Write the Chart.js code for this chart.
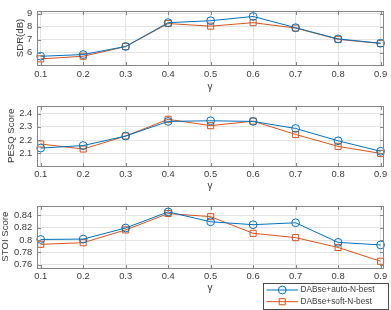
<!DOCTYPE html>
<html><head><meta charset="utf-8">
<script src="https://cdn.jsdelivr.net/npm/chart.js@4/dist/chart.umd.min.js"></script>
<style>
html,body{margin:0;padding:0;background:#fff;}
#wrap{position:relative;width:391px;height:310px;overflow:hidden;background:#fff;}
canvas{position:absolute;left:0;}
</style></head><body>
<div id="wrap">
<canvas id="c1" width="391" height="95" style="top:0px;width:391px;height:95px"></canvas>
<canvas id="c2" width="391" height="100" style="top:95px;width:391px;height:100px"></canvas>
<canvas id="c3" width="391" height="115" style="top:195px;width:391px;height:115px"></canvas>
</div>
<script>
// ---- data ----
const gammas = [0.1, 0.2, 0.3, 0.4, 0.5, 0.6, 0.7, 0.8, 0.9];
const xTickLabels = ['0.1', '0.2', '0.3', '0.4', '0.5', '0.6', '0.7', '0.8', '0.9'];
const seriesNames = ['DABse+auto-N-best', 'DABse+soft-N-best'];

const sdrAuto = [5.72, 5.85, 6.48, 8.32, 8.47, 8.80, 7.93, 7.06, 6.73];
const sdrSoft = [5.52, 5.72, 6.47, 8.25, 8.05, 8.32, 7.90, 7.03, 6.71];
const sdrTicks = [6, 7, 8, 9];
const sdrTickLabels = ['6', '7', '8', '9'];

const pesqAuto = [2.140, 2.159, 2.231, 2.341, 2.346, 2.341, 2.288, 2.195, 2.116];
const pesqSoft = [2.171, 2.133, 2.231, 2.357, 2.309, 2.343, 2.243, 2.153, 2.100];
const pesqTicks = [2.1, 2.2, 2.3, 2.4];
const pesqTickLabels = ['2.1', '2.2', '2.3', '2.4'];

const stoiAuto = [0.8010, 0.8016, 0.8195, 0.8454, 0.8295, 0.8248, 0.8279, 0.7963, 0.7922];
const stoiSoft = [0.7932, 0.7958, 0.8164, 0.8428, 0.8377, 0.8109, 0.8040, 0.7881, 0.7659];
const stoiTicks = [0.76, 0.78, 0.80, 0.82, 0.84];
const stoiTickLabels = ['0.76', '0.78', '0.8', '0.82', '0.84'];

// ---- style ----
const BLUE = '#0072BD', ORANGE = '#D95319';
const GRID = '#e4e4e4', BORDER = '#858585', TEXT = '#3a3a3a';
const FONT = "'Liberation Sans', Arial, Helvetica, sans-serif";

const boxPlugin = {
  id: 'matBox',
  afterDraw(chart) {
    const {ctx, chartArea: a, scales: {x, y}} = chart;
    ctx.save();
    ctx.strokeStyle = BORDER; ctx.lineWidth = 1;
    const l = Math.round(a.left) + 0.5, t = Math.round(a.top) + 0.5;
    const r = Math.round(a.right) + 0.5, b = Math.round(a.bottom) + 0.5;
    ctx.strokeRect(l, t, r - l, b - t);
    const L = 3.5;
    ctx.beginPath();
    x.ticks.forEach(tk => {
      const p = Math.round(x.getPixelForValue(tk.value)) + 0.5;
      ctx.moveTo(p, b); ctx.lineTo(p, b - L);
      ctx.moveTo(p, t); ctx.lineTo(p, t + L);
    });
    y.ticks.forEach(tk => {
      const p = Math.round(y.getPixelForValue(tk.value)) + 0.5;
      ctx.moveTo(l, p); ctx.lineTo(l + L, p);
      ctx.moveTo(r, p); ctx.lineTo(r - L, p);
    });
    ctx.stroke();
    ctx.restore();
  }
};

const legendPlugin = {
  id: 'matLegend',
  afterDraw(chart, args, opts) {
    if (!opts || !opts.show) return;
    const {ctx} = chart;
    const bx = opts.x, by = opts.y, bw = opts.w, bh = opts.h;
    ctx.save();
    ctx.fillStyle = '#fff';
    ctx.fillRect(bx, by, bw, bh);
    ctx.strokeStyle = '#4a4a4a'; ctx.lineWidth = 1;
    ctx.strokeRect(bx + 0.5, by + 0.5, bw - 1, bh - 1);
    ctx.font = '8.3px ' + FONT;
    ctx.textBaseline = 'middle';
    chart.data.datasets.forEach((ds, i) => {
      const cy = by + opts.row0 + i * opts.rowGap;
      ctx.strokeStyle = ds.borderColor; ctx.lineWidth = 1;
      ctx.beginPath();
      ctx.moveTo(opts.lineX0, cy); ctx.lineTo(opts.lineX1, cy);
      ctx.stroke();
      const mx = (opts.lineX0 + opts.lineX1) / 2;
      ctx.fillStyle = 'rgba(0,0,0,0)';
      Chart.helpers.drawPoint(ctx, {pointStyle: ds.pointStyle, radius: ds.pointRadius, borderWidth: 1, rotation: 0}, mx, cy);
      ctx.fillStyle = TEXT;
      ctx.fillText(ds.label, opts.textX, cy);
    });
    ctx.restore();
  }
};

function makeChart(id, cfg) {
  const ds = (label, data, color, style, radius) => ({
    label, data: gammas.map((g, i) => ({x: g, y: data[i]})),
    borderColor: color, backgroundColor: 'rgba(0,0,0,0)',
    pointBorderColor: color, pointBackgroundColor: 'rgba(0,0,0,0)',
    borderWidth: 1, pointBorderWidth: 1, pointStyle: style, pointRadius: radius,
    tension: 0, clip: false
  });
  return new Chart(document.getElementById(id), {
    type: 'line',
    data: {datasets: [
      ds(seriesNames[0], cfg.auto, BLUE, 'circle', 3.9),
      ds(seriesNames[1], cfg.soft, ORANGE, 'rect', 4.3)
    ]},
    options: {
      responsive: false, animation: false, devicePixelRatio: 1,
      layout: {padding: {top: cfg.padTop, right: 8.3, left: 0, bottom: 0}},
      plugins: {legend: {display: false}, tooltip: {enabled: false}, matLegend: cfg.legend || {show: false}},
      scales: {
        x: {
          type: 'linear', min: 0.092, max: 0.905,
          afterBuildTicks: s => { s.ticks = gammas.map(v => ({value: v})); },
          afterFit: s => { s.height = cfg.xHeight; },
          ticks: {callback: (v, i) => xTickLabels[i], color: TEXT, font: {family: FONT, size: 9.4}, padding: 3, maxRotation: 0, autoSkip: false},
          grid: {color: GRID, drawTicks: false}, border: {display: false},
          title: {display: true, text: 'γ', color: TEXT, font: {family: FONT, size: 10}, padding: {top: 0, bottom: cfg.gammaPad}}
        },
        y: {
          type: 'linear', min: cfg.yMin, max: cfg.yMax,
          afterBuildTicks: s => { s.ticks = cfg.yTicks.map(v => ({value: v})); },
          afterFit: s => { s.width = 37.3; },
          ticks: {callback: (v, i) => cfg.yLabels[i], color: TEXT, font: {family: FONT, size: 9.4}, padding: 5, autoSkip: false},
          grid: {color: GRID, drawTicks: false}, border: {display: false},
          title: {display: true, text: cfg.yTitle, color: TEXT, font: {family: FONT, size: 9.6}, padding: {top: cfg.yTitlePad, bottom: 0}}
        }
      }
    },
    plugins: [boxPlugin, legendPlugin]
  });
}

makeChart('c1', {auto: sdrAuto, soft: sdrSoft, yTicks: sdrTicks, yLabels: sdrTickLabels, yMin: 5.02, yMax: 9.25,
  yTitle: 'SDR(dB)', yTitlePad: 15, padTop: 1, xHeight: 29.7, gammaPad: 1.7});
makeChart('c2', {auto: pesqAuto, soft: pesqSoft, yTicks: pesqTicks, yLabels: pesqTickLabels, yMin: 2.005, yMax: 2.46,
  yTitle: 'PESQ Score', yTitlePad: 6, padTop: 6.7, xHeight: 29, gammaPad: 2.3});
makeChart('c3', {auto: stoiAuto, soft: stoiSoft, yTicks: stoiTicks, yLabels: stoiTickLabels, yMin: 0.7555, yMax: 0.8555,
  yTitle: 'STOI Score', yTitlePad: 0, padTop: 8.3, xHeight: 42.3, gammaPad: 15.7,
  legend: {show: true, x: 263, y: 88, w: 126, h: 27, row0: 7, rowGap: 11.7, lineX0: 266.5, lineX1: 298, textX: 300.5}});
</script>
</body></html>
